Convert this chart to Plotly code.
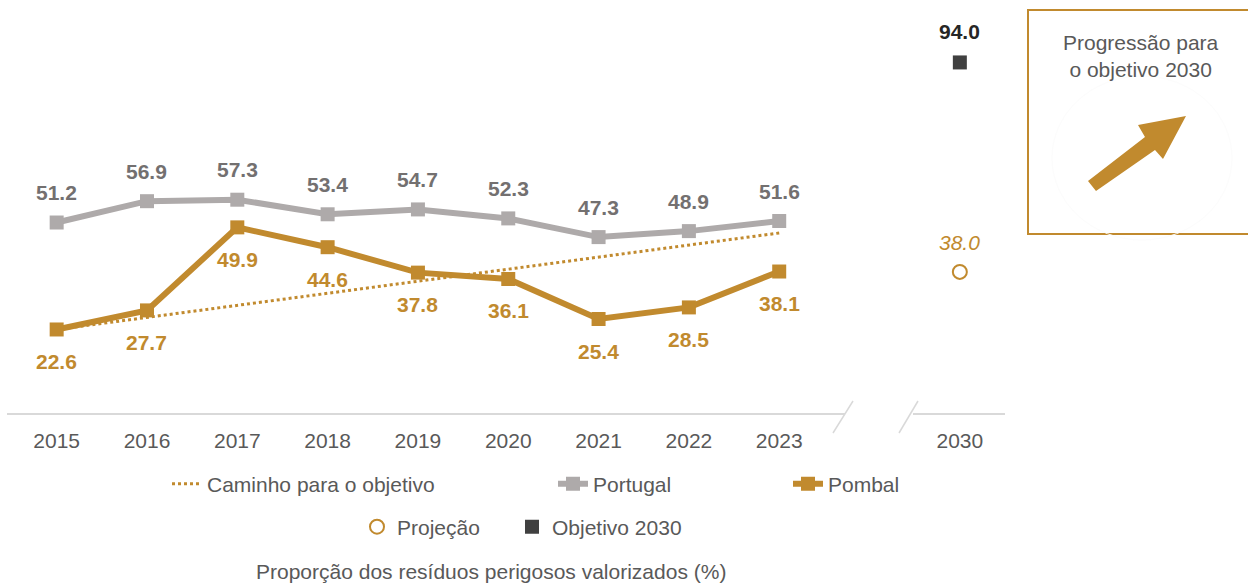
import plotly.graph_objects as go

# data
years = ["2015", "2016", "2017", "2018", "2019", "2020", "2021", "2022", "2023"]
portugal = [51.2, 56.9, 57.3, 53.4, 54.7, 52.3, 47.3, 48.9, 51.6]
pombal = [22.6, 27.7, 49.9, 44.6, 37.8, 36.1, 25.4, 28.5, 38.1]
path_years = ["2015", "2023"]
path_values = [22.6, 48.4]
target_year = "2030"
projection_2030 = [38.0]
target_2030 = [94.0]

GOLD = "#C18A2E"
GRAY = "#AEAAAA"
GRAY_TXT = "#737070"
TXT = "#595959"
DARK = "#404040"
FONT = "Arial, Liberation Sans, sans-serif"
FS = 21

W, H = 1248, 585
ML, MR, MT, MB = 7, 243, 40, 171
PW, PH = W - ML - MR, H - MT - MB

# x positions: one gap slot before 2030
xpos = {y: i for i, y in enumerate(years)}
xpos[target_year] = len(years) + 1


def px(x):
    return (x - ML) / PW


def py(y):
    return (H - MB - y) / PH


fig = go.Figure()

fig.add_trace(go.Scatter(
    x=[xpos[y] for y in path_years], y=path_values,
    mode="lines", name="Caminho para o objetivo",
    line=dict(color=GOLD, width=3, dash="dot"),
    legend="legend",
))
fig.add_trace(go.Scatter(
    x=[xpos[y] for y in years], y=portugal,
    mode="lines+markers", name="Portugal",
    line=dict(color=GRAY, width=6),
    marker=dict(symbol="square", size=14, color=GRAY),
    legend="legend2",
))
fig.add_trace(go.Scatter(
    x=[xpos[y] for y in years], y=pombal,
    mode="lines+markers", name="Pombal",
    line=dict(color=GOLD, width=6),
    marker=dict(symbol="square", size=14, color=GOLD),
    legend="legend3",
))
fig.add_trace(go.Scatter(
    x=[xpos[target_year]], y=projection_2030,
    mode="markers", name="Projeção",
    marker=dict(symbol="circle-open", size=14, color=GOLD, line=dict(width=2)),
    legend="legend4",
))
fig.add_trace(go.Scatter(
    x=[xpos[target_year]], y=target_2030,
    mode="markers", name="Objetivo 2030",
    marker=dict(symbol="square", size=14, color=DARK),
    legend="legend5",
))

annotations = []
for y, v in zip(years, portugal):
    annotations.append(dict(
        x=xpos[y], y=v, text=f"{v:.1f}", showarrow=False, yshift=30,
        xanchor="center", yanchor="middle",
        font=dict(size=FS, color=GRAY_TXT, family=FONT, weight="bold"),
    ))
for y, v in zip(years, pombal):
    annotations.append(dict(
        x=xpos[y], y=v, text=f"{v:.1f}", showarrow=False, yshift=-32,
        xanchor="center", yanchor="middle",
        font=dict(size=FS, color=GOLD, family=FONT, weight="bold"),
    ))
annotations.append(dict(
    x=xpos[target_year], y=target_2030[0], text=f"{target_2030[0]:.1f}",
    showarrow=False, yshift=31, xanchor="center", yanchor="middle",
    font=dict(size=FS, color="#262626", family=FONT, weight="bold"),
))
annotations.append(dict(
    x=xpos[target_year], y=projection_2030[0], text=f"{projection_2030[0]:.1f}",
    showarrow=False, yshift=29, xanchor="center", yanchor="middle",
    font=dict(size=FS, color=GOLD, family=FONT, style="italic"),
))
annotations.append(dict(
    xref="paper", yref="paper", x=px(1141), y=py(56),
    xanchor="center", yanchor="middle",
    text="Progressão para<br>o objetivo 2030", showarrow=False,
    font=dict(size=FS, color=TXT, family=FONT),
))
annotations.append(dict(
    xref="paper", yref="paper", x=px(491), y=py(571),
    xanchor="center", yanchor="middle",
    text="Proporção dos resíduos perigosos valorizados (%)", showarrow=False,
    font=dict(size=FS, color=TXT, family=FONT),
))

# axis line with break, plus the box and arrow
ax_col = "#D9D9D9"
shapes = [
    dict(type="line", xref="paper", yref="paper", x0=px(7), x1=px(845), y0=py(414), y1=py(414),
         line=dict(color=ax_col, width=2)),
    dict(type="line", xref="paper", yref="paper", x0=px(913), x1=px(1005), y0=py(414), y1=py(414),
         line=dict(color=ax_col, width=2)),
    dict(type="line", xref="paper", yref="paper", x0=px(833), x1=px(853), y0=py(433), y1=py(401),
         line=dict(color=ax_col, width=1.5)),
    dict(type="line", xref="paper", yref="paper", x0=px(899), x1=px(918), y0=py(433), y1=py(401),
         line=dict(color=ax_col, width=1.5)),
    dict(type="rect", xref="paper", yref="paper", x0=px(1028), x1=px(1262), y0=py(234), y1=py(10),
         line=dict(color=GOLD, width=2)),
    dict(type="circle", xref="paper", yref="paper", x0=px(1052), x1=px(1232), y0=py(240), y1=py(76),
         line=dict(color="#FCFCFC", width=1)),
]
arrow_pts = [(1088, 181), (1145, 137), (1138, 125), (1186, 116), (1163, 159), (1155, 150), (1096, 191)]
path = "M " + " L ".join(f"{px(a):.5f},{py(b):.5f}" for a, b in arrow_pts) + " Z"
shapes.append(dict(type="path", xref="paper", yref="paper", path=path,
                   fillcolor=GOLD, line=dict(color=GOLD, width=0)))


def leg(x, y):
    return dict(
        xref="container", yref="container", x=x / W, y=1 - y / H,
        xanchor="left", yanchor="middle", orientation="h",
        bgcolor="rgba(0,0,0,0)", font=dict(size=FS, color=TXT, family=FONT),
    )


fig.update_layout(
    width=W, height=H,
    margin=dict(l=ML, r=MR, t=MT, b=MB),
    paper_bgcolor="white", plot_bgcolor="white",
    font=dict(family=FONT, color=TXT),
    showlegend=True,
    legend=leg(167, 484),
    legend2=leg(553, 484),
    legend3=leg(788, 484),
    legend4=leg(357, 527),
    legend5=leg(512, 527),
    xaxis=dict(
        range=[-0.55, 10.5], showgrid=False, zeroline=False, showline=False,
        tickvals=[xpos[y] for y in years + [target_year]],
        ticktext=years + [target_year],
        ticks="outside", ticklen=8, tickcolor="rgba(0,0,0,0)",
        tickfont=dict(size=FS, color=TXT, family=FONT),
    ),
    yaxis=dict(range=[0, 100], visible=False),
    annotations=annotations,
    shapes=shapes,
)
fig.update_traces(cliponaxis=False)

fig.write_html(
    "out.html",
    config={"displayModeBar": False},
    post_script="document.body.style.margin='0';",
)
